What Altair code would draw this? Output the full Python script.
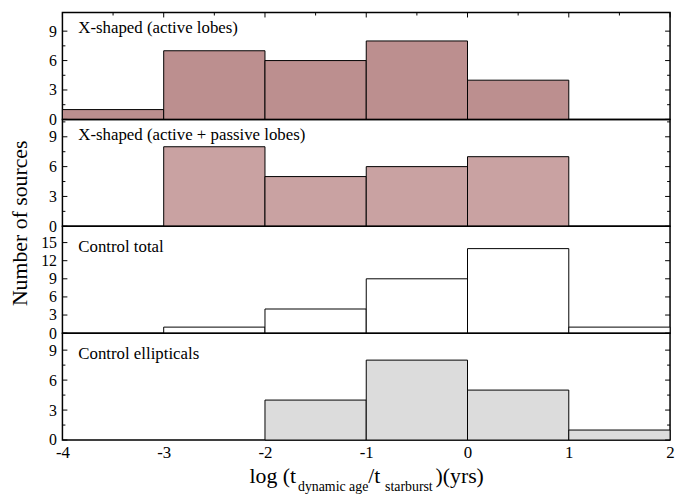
import altair as alt
import pandas as pd

FONT = "Liberation Serif"

# ---- data ----
bin_lo = [-4, -3, -2, -1, 0, 1]
bin_hi = [-3, -2, -1, 0, 1, 2]
active = [1, 7, 6, 8, 4, 0]
active_passive = [0, 8, 5, 6, 7, 0]
control_total = [0, 1, 4, 9, 14, 1]
control_ell = [0, 0, 4, 8, 5, 1]

panel_titles = ["X-shaped (active lobes)", "X-shaped (active + passive lobes)",
                "Control total", "Control ellipticals"]
y_max = [10.9, 10.75, 17.7, 10.7]
y_major = [[0, 3, 6, 9], [0, 3, 6, 9], [0, 3, 6, 9, 12, 15], [0, 3, 6, 9]]
y_minor = [[1.5, 4.5, 7.5], [1.5, 4.5, 7.5, 10.5], [], [1.5, 4.5, 7.5]]
x_major = [-4, -3, -2, -1, 0, 1, 2]
x_minor = [-3.5, -2.5, -1.5, -0.5, 0.5, 1.5]
fills = ["#bc8f8f", "#c9a2a2", "#ffffff", "#dcdcdc"]
title_y = [21, 21, 26, 26]

W, H = 614, 108
MAJ, MIN = 5, 3

xs = alt.Scale(domain=[-4, 2], nice=False, zero=False)


def panel(i, counts, top_ticks=False, bottom_axis=False, ytitle=False):
    df = pd.DataFrame({"lo": bin_lo, "hi": bin_hi, "n": counts})
    df = df[df.n > 0]
    ys = alt.Scale(domain=[0, y_max[i]], nice=False, zero=False)
    if bottom_axis:
        xaxis = alt.Axis(values=x_major, ticks=False, tickSize=0, domain=False, grid=False,
                         labelFontSize=17, labelFont=FONT, labelColor="black",
                         labelPadding=5, labelFlush=False, labelExpr="'' + datum.value",
                         title=None)
    else:
        xaxis = None
    yaxis = alt.Axis(values=y_major[i], ticks=False, tickSize=0, domain=False, grid=False,
                     labelFontSize=16, labelFont=FONT, labelColor="black",
                     labelPadding=6, labelOverlap=False, labelExpr="'' + datum.value",
                     title=None)
    layers = [
        alt.Chart(df).mark_rect(fill=fills[i], stroke="black", strokeWidth=1).encode(
            x=alt.X("lo:Q", scale=xs, axis=xaxis),
            x2="hi:Q",
            y=alt.Y("n:Q", scale=ys, axis=yaxis),
            y2=alt.datum(0),
        )
    ]
    for vals, ln in ((y_major[i], MAJ), (y_minor[i], MIN)):
        if not vals:
            continue
        tdf = pd.DataFrame({"v": vals})
        layers.append(alt.Chart(tdf).mark_rule(color="black", strokeWidth=1).encode(
            y=alt.Y("v:Q", scale=ys, axis=yaxis), x=alt.value(0), x2=alt.value(ln)))
        layers.append(alt.Chart(tdf).mark_rule(color="black", strokeWidth=1).encode(
            y=alt.Y("v:Q", scale=ys, axis=yaxis), x=alt.value(W), x2=alt.value(W - ln)))
    if top_ticks:
        for vals, ln in ((x_major, MAJ), (x_minor, MIN)):
            tdf = pd.DataFrame({"v": vals})
            layers.append(alt.Chart(tdf).mark_rule(color="black", strokeWidth=1).encode(
                x=alt.X("v:Q", scale=xs, axis=xaxis), y=alt.value(0), y2=alt.value(ln)))
    layers.append(
        alt.Chart(pd.DataFrame({"t": [panel_titles[i]]})).mark_text(
            align="left", baseline="alphabetic", font=FONT, fontSize=17, color="black"
        ).encode(text="t:N", x=alt.value(16), y=alt.value(title_y[i]))
    )
    if ytitle:
        layers.append(
            alt.Chart(pd.DataFrame({"t": ["Number of sources"]})).mark_text(
                align="center", baseline="middle", angle=270, font=FONT, fontSize=22,
                color="black"
            ).encode(text="t:N", x=alt.value(-43), y=alt.value(H - 3))
        )
    if bottom_axis:
        pieces = [("log (t", 189, 22, 43), ("dynamic age", 238, 14, 51),
                  ("/t", 309, 22, 43), ("starburst", 326, 14, 51), (")(yrs)", 377, 22, 43)]
        for txt, px, fs, dy in pieces:
            layers.append(
                alt.Chart(pd.DataFrame({"t": [txt]})).mark_text(
                    align="left", baseline="alphabetic", font=FONT, fontSize=fs,
                    color="black"
                ).encode(text="t:N", x=alt.value(px), y=alt.value(H + dy))
            )
    return alt.layer(*layers).properties(width=W, height=H)


chart = alt.vconcat(
    panel(0, active, top_ticks=True),
    panel(1, active_passive, ytitle=True),
    panel(2, control_total),
    panel(3, control_ell, bottom_axis=True),
    spacing=0,
    bounds="flush",
).properties(
    padding={"left": 0, "top": 0, "right": 0, "bottom": 0},
    background="white",
).configure_view(stroke="black", strokeWidth=1.5)

chart.save("out.html", embed_options={"renderer": "svg", "actions": False})
